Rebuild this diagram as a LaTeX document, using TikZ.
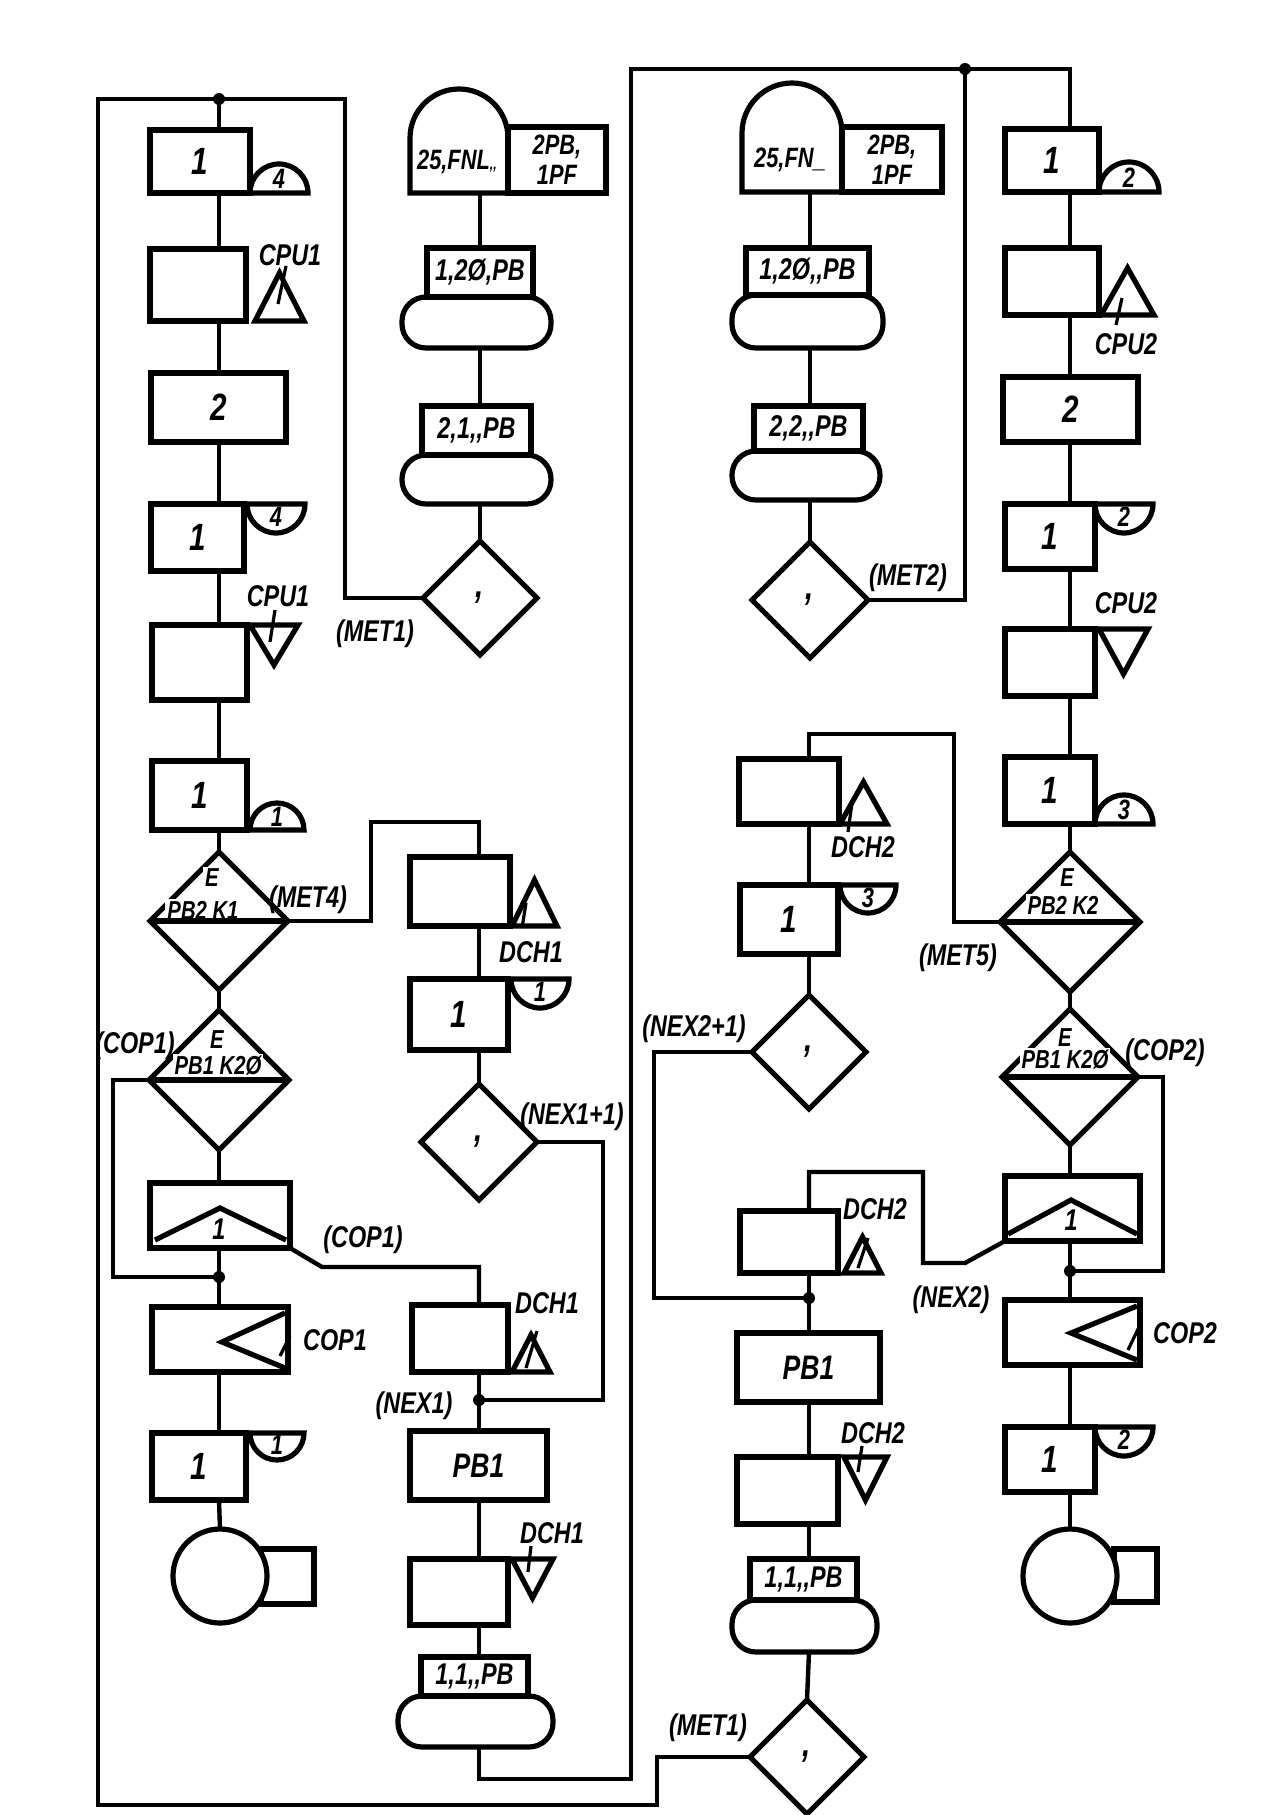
\documentclass[tikz,border=0pt]{standalone}
\usepackage{fontspec}
\newfontfamily\hf{Liberation Sans}[FakeStretch=0.78]
\usetikzlibrary{shapes.geometric}
\tikzset{
 sh/.style={line width=2.6pt},
 cn/.style={line width=2.2pt},
 tk/.style={line width=1.6pt},
 bx/.style={draw, sh, rectangle, inner sep=0pt, outer sep=0pt, fill=white, align=center,
   font=\hf\bfseries\itshape\fontsize{19}{19}\selectfont},
 tb/.style={font=\hf\bfseries\itshape\fontsize{15}{15}\selectfont},
 t2/.style={font=\hf\bfseries\itshape\fontsize{14}{15}\selectfont},
 t3/.style={font=\hf\bfseries\itshape\fontsize{17}{17}\selectfont},
 stad/.style={draw, sh, rectangle, rounded corners=12pt, inner sep=0pt, outer sep=0pt, fill=white},
 dm/.style={diamond, draw, sh, inner sep=0pt, outer sep=0pt, fill=white,
   font=\hf\bfseries\itshape\fontsize{19}{19}\selectfont},
 lb/.style={font=\hf\bfseries\itshape\fontsize{15}{15}\selectfont, inner sep=0.5pt},
 dk/.style={font=\hf\bfseries\itshape\fontsize{14}{14}\selectfont, inner sep=0pt},
 el/.style={font=\hf\bfseries\itshape\fontsize{13}{13}\selectfont, inner sep=1pt, fill=white},
 sm/.style={font=\hf\bfseries\itshape\fontsize{14}{14}\selectfont, inner sep=0pt},
 md/.style={font=\hf\bfseries\itshape\fontsize{15}{15}\selectfont},
}
\newcommand\Bx[7][]{\pgfmathsetmacro\bw{(#5-#3)*0.5}\pgfmathsetmacro\bh{(#6-#4)*0.5}%
 \node[bx,#1,minimum width=\bw pt,minimum height=\bh pt] (#2) at ({(#3+#5)/2},{(#4+#6)/2}) {#7};}
\newcommand\St[5]{\pgfmathsetmacro\bw{(#4-#2)*0.5}\pgfmathsetmacro\bh{(#5-#3)*0.5}%
 \node[stad,minimum width=\bw pt,minimum height=\bh pt] (#1) at ({(#2+#4)/2},{(#3+#5)/2}) {};}
\newcommand\Dm[5]{\node[dm,minimum width=#4pt,minimum height=#4pt] (#1) at (#2,#3) {#5};}
\newcommand\SemiUp[5]{\draw[sh,fill=white] (#2,#3) arc[start angle=180,end angle=0,radius=#4*0.5pt] -- cycle;
 \node[sm] (#1) at ({#2+#4},{#3-#4*0.48}) {#5};}
\newcommand\SemiDn[5]{\draw[sh,fill=white] (#2,#3) arc[start angle=180,end angle=360,radius=#4*0.5pt] -- cycle;
 \node[sm] (#1) at ({#2+#4},{#3+#4*0.45}) {#5};}
\newcommand\Tri[5]{\draw[sh,fill=white] (#2,#4) -- (#3,#4) -- ({(#2+#3)/2},#5) -- cycle;
 \coordinate (#1) at ({(#2+#3)/2},#5);}
\begin{document}
\begin{tikzpicture}[x=0.5pt,y=-0.5pt]
\useasboundingbox (0,0) rectangle (1271,1815);
\fill[white] (0,0) rectangle (1271,1815);
% spines and junctions
\coordinate (sA) at (219,0);
\coordinate (sB) at (480,0);
\coordinate (sC) at (479,0);
\coordinate (sD) at (810,0);
\coordinate (sE) at (809,0);
\coordinate (sR) at (1070,0);
\coordinate (jA) at (219,99);
\coordinate (jA2) at (219,1277);
\coordinate (jC) at (479,1400);
\coordinate (jT) at (965,69);
\coordinate (jE) at (809,1298);
\coordinate (jR) at (1070,1271);

% ---------- column A ----------
\Bx{A1}{150}{130}{250}{193}{1}
\SemiUp{A1s}{250}{193}{29}{4}
\Bx{A2}{150}{249}{246}{321}{}
\Tri{A2t}{255}{304}{321}{273}
\node[lb] (A2l) at (290,255) {CPU1};
\Bx{A3}{151}{373}{286}{442}{2}
\Bx{A4}{151}{504}{244}{571}{1}
\SemiDn{A4s}{247}{504}{29}{4}
\Bx{A5}{152}{625}{247}{700}{}
\Tri{A5t}{250}{298}{625}{665}
\node[lb] (A5l) at (278,596) {CPU1};
\Bx{A6}{152}{761}{247}{830}{1}
\SemiUp{A6s}{250}{830}{27}{1}
\Dm{A7}{219}{921}{69}{}
\node[el] (A7e) at (212,878) {E};
\node[el] (A7p) at (203,910) {PB2 K1};
\node[lb] (A7l) at (308,900) {(MET4)};
\Dm{A8}{219}{1080}{70}{}
\node[el] (A8e) at (217,1040) {E};
\node[el] (A8p) at (218,1066) {PB1 K2Ø};
\node[lb] (A8l) at (135,1046) {(COP1)};
\Bx{A9}{150}{1183}{290}{1248}{}
\node[lb] (A9l) at (363,1240) {(COP1)};
\Bx{A10}{152}{1307}{288}{1372}{}
\node[lb] (A10l) at (335,1340) {COP1};
\Bx{A11}{152}{1433}{246}{1500}{1}
\SemiDn{A11s}{250}{1433}{27}{1}
\draw[sh] (261,1549) rectangle (314,1604);
\node[draw,sh,circle,fill=white,minimum size=47pt,inner sep=0pt,outer sep=0pt] (A12) at (220,1576) {};

% ---------- column B ----------
\draw[sh,fill=white] (410,193) -- (410,138) arc[start angle=180,end angle=0,radius=24.5pt] -- (508,193) -- cycle;
\node[dk] (B1t) at (457,162) {25,FNL{\fontsize{8}{8}\selectfont,,}};
\Bx[t2]{B1r}{508}{127}{606}{193}{2PB,\\1PF}
\coordinate (B1b) at (480,193);
\St{B2s}{402}{297}{551}{348}
\Bx[tb]{B2}{427}{248}{533}{297}{1,2Ø,PB}
\St{B3s}{402}{455}{551}{504}
\Bx[tb]{B3}{422}{406}{531}{455}{2,1,,PB}
\Dm{B4}{480}{598}{57}{,}
\node[lb] (B4l) at (375,634) {(MET1)};

% ---------- column C ----------
\Bx{C1}{410}{857}{510}{926}{}
\Tri{C1t}{512}{557}{926}{880}
\node[lb] (C1l) at (531,952) {DCH1};
\Bx{C2}{410}{979}{508}{1050}{1}
\SemiDn{C2s}{511}{979}{29}{1}
\Dm{C3}{479}{1142}{58}{,}
\node[lb] (C3l) at (572,1117) {(NEX1+1)};
\Bx{C4}{412}{1305}{508}{1372}{}
\Tri{C4t}{512}{550}{1372}{1335}
\node[lb] (C4l) at (547,1303) {DCH1};
\node[lb] (C4n) at (414,1406) {(NEX1)};
\Bx[t3]{C5}{410}{1431}{547}{1500}{PB1}
\Bx{C6}{410}{1559}{508}{1625}{}
\Tri{C6t}{512}{553}{1559}{1598}
\node[lb] (C6l) at (552,1533) {DCH1};
\St{C7s}{398}{1696}{553}{1747}
\Bx[tb]{C7}{421}{1657}{528}{1696}{1,1,,PB}

% ---------- column D ----------
\draw[sh,fill=white] (742,192) -- (742,133) arc[start angle=180,end angle=0,radius=25pt] -- (842,192) -- cycle;
\node[dk] (D1t) at (790,160) {25,FN\_};
\Bx[t2]{D1r}{842}{127}{942}{192}{2PB,\\1PF}
\coordinate (D1b) at (810,192);
\St{D2s}{732}{295}{883}{348}
\Bx[tb]{D2}{746}{248}{869}{295}{1,2Ø,,PB}
\St{D3s}{732}{451}{880}{500}
\Bx[tb]{D3}{754}{406}{863}{451}{2,2,,PB}
\Dm{D4}{810}{600}{58}{,}
\node[lb] (D4l) at (908,578) {(MET2)};

% ---------- column E ----------
\Bx{E1}{739}{759}{839}{824}{}
\Tri{E1t}{840}{887}{824}{782}
\node[lb] (E1l) at (863,847) {DCH2};
\Bx{E2}{740}{885}{838}{954}{1}
\SemiDn{E2s}{840}{885}{28}{3}
\Dm{E3}{809}{1052}{57}{,}
\node[lb] (E3l) at (694,1029) {(NEX2+1)};
\Bx{E4}{740}{1211}{838}{1273}{}
\Tri{E4t}{844}{881}{1273}{1237}
\node[lb] (E4l) at (875,1209) {DCH2};
\Bx[t3]{E5}{737}{1333}{880}{1402}{PB1}
\Bx{E6}{737}{1457}{838}{1524}{}
\Tri{E6t}{844}{887}{1457}{1500}
\node[lb] (E6l) at (873,1433) {DCH2};
\St{E7s}{732}{1600}{877}{1652}
\Bx[tb]{E7}{750}{1559}{857}{1600}{1,1,,PB}
\Dm{E8}{807}{1757}{57}{,}
\node[lb] (E8l) at (708,1728) {(MET1)};

% ---------- column R ----------
\Bx{R1}{1005}{129}{1099}{192}{1}
\SemiUp{R1s}{1099}{192}{30}{2}
\Bx{R2}{1005}{248}{1099}{315}{}
\Tri{R2t}{1101}{1154}{315}{268}
\node[lb] (R2l) at (1126,344) {CPU2};
\Bx{R3}{1003}{377}{1138}{442}{2}
\Bx{R4}{1005}{504}{1095}{569}{1}
\SemiDn{R4s}{1095}{504}{29}{2}
\Bx{R5}{1005}{629}{1095}{696}{}
\Tri{R5t}{1099}{1148}{629}{674}
\node[lb] (R5l) at (1126,603) {CPU2};
\Bx{R6}{1005}{757}{1095}{824}{1}
\SemiUp{R6s}{1095}{824}{29}{3}
\Dm{R7}{1070}{922}{70}{}
\node[el] (R7e) at (1067,878) {E};
\node[el] (R7p) at (1063,905) {PB2 K2};
\node[lb] (R7l) at (958,958) {(MET5)};
\Dm{R8}{1070}{1077}{68}{}
\node[el] (R8e) at (1065,1038) {E};
\node[el] (R8p) at (1065,1060) {PB1 K2Ø};
\node[lb] (R8l) at (1165,1053) {(COP2)};
\Bx{R9}{1005}{1176}{1140}{1241}{}
\node[lb] (R9l) at (951,1300) {(NEX2)};
\Bx{R10}{1005}{1300}{1140}{1365}{}
\node[lb] (R10l) at (1185,1333) {COP2};
\Bx{R11}{1005}{1427}{1095}{1492}{1}
\SemiDn{R11s}{1095}{1427}{29}{2}
\draw[sh] (1114,1549) rectangle (1157,1602);
\node[draw,sh,circle,fill=white,minimum size=47pt,inner sep=0pt,outer sep=0pt] (R12) at (1070,1576) {};

% ---------- inner marks ----------
\draw[sh] (155,1240) -- (220,1208) -- (286,1240);
\node[md] (A9n) at (219,1229) {1};
\draw[sh] (1008,1234) -- (1071,1200) -- (1137,1234);
\node[md] (R9n) at (1071,1220) {1};
\draw[sh] (285,1313) -- (222,1342) -- (285,1368);
\draw[sh] (1137,1306) -- (1071,1333) -- (1137,1360);
\draw[tk] (286,266) -- (278,304);
\draw[tk] (275,610) -- (270,642);
\draw[tk] (526,903) -- (522,928);
\draw[tk] (537,1331) -- (526,1368);
\draw[tk] (531,1546) -- (528,1572);
\draw[tk] (852,803) -- (848,832);
\draw[tk] (868,1238) -- (858,1268);
\draw[tk] (862,1446) -- (858,1472);
\draw[tk] (1122,298) -- (1116,325);
\draw[tk] (290,1336) -- (280,1356);
\draw[tk] (1140,1325) -- (1128,1350);
\draw[sh] (A7.west) -- (A7.east);
\draw[sh] (A8.west) -- (A8.east);
\draw[sh] (R7.west) -- (R7.east);
\draw[sh] (R8.west) -- (R8.east);

% ---------- connectors ----------
% column A
\draw[cn] (jA) -- (A1.north -| sA);
\draw[cn] (A1.south -| sA) -- (A2.north -| sA);
\draw[cn] (A2.south -| sA) -- (A3.north -| sA);
\draw[cn] (A3.south -| sA) -- (A4.north -| sA);
\draw[cn] (A4.south -| sA) -- (A5.north -| sA);
\draw[cn] (A5.south -| sA) -- (A6.north -| sA);
\draw[cn] (A6.south -| sA) -- (A7.north);
\draw[cn] (A7.south) -- (A8.north);
\draw[cn] (A8.south) -- (A9.north -| sA);
\draw[cn] (A9.south -| sA) -- (jA2) -- (A10.north -| sA);
\draw[cn] (A10.south -| sA) -- (A11.north -| sA);
\draw[cn] (A11.south -| sA) -- (A12.north);
% outer frame
\draw[cn] (B4.west) -- (345,598) -- (345,99) -- (jA) -- (98,99) -- (98,1805) -- (657,1805) -- (657,1757) -- (E8.west);
\draw[cn] (A7.east) -- (371,921) -- (371,822) -- (479,822) -- (C1.north -| sC);
\draw[cn] (A8.west) -- (113,1080) -- (113,1277) -- (jA2);
\draw[cn] (A9.south east) -- (322,1267) -- (479,1267) -- (C4.north -| sC);
% column B
\draw[cn] (B1b) -- (B2.north -| sB);
\draw[cn] (B2s.south -| sB) -- (B3.north -| sB);
\draw[cn] (B3s.south -| sB) -- (B4.north);
% column C
\draw[cn] (C1.south -| sC) -- (C2.north -| sC);
\draw[cn] (C2.south -| sC) -- (C3.north);
\draw[cn] (C3.east) -- (603,1142) -- (603,1400) -- (jC);
\draw[cn] (C4.south -| sC) -- (jC) -- (C5.north -| sC);
\draw[cn] (C5.south -| sC) -- (C6.north -| sC);
\draw[cn] (C6.south -| sC) -- (C7.north -| sC);
\draw[cn] (C7s.south -| sC) -- (479,1779) -- (631,1779) -- (631,69) -- (jT) -- (1070,69) -- (R1.north -| sR);
% column D
\draw[cn] (D1b) -- (D2.north -| sD);
\draw[cn] (D2s.south -| sD) -- (D3.north -| sD);
\draw[cn] (D3s.south -| sD) -- (D4.north);
\draw[cn] (D4.east) -- (965,600) -- (jT);
% column E
\draw[cn] (R7.west) -- (954,922) -- (954,734) -- (809,734) -- (E1.north -| sE);
\draw[cn] (E1.south -| sE) -- (E2.north -| sE);
\draw[cn] (E2.south -| sE) -- (E3.north);
\draw[cn] (E3.west) -- (654,1052) -- (654,1298) -- (jE);
\draw[cn] (R9.south west) -- (965,1263) -- (923,1263) -- (923,1172) -- (809,1172) -- (E4.north -| sE);
\draw[cn] (E4.south -| sE) -- (jE) -- (E5.north -| sE);
\draw[cn] (E5.south -| sE) -- (E6.north -| sE);
\draw[cn] (E6.south -| sE) -- (E7.north -| sE);
\draw[cn] (E7s.south -| sE) -- (E8.north);
% column R
\draw[cn] (R1.south -| sR) -- (R2.north -| sR);
\draw[cn] (R2.south -| sR) -- (R3.north -| sR);
\draw[cn] (R3.south -| sR) -- (R4.north -| sR);
\draw[cn] (R4.south -| sR) -- (R5.north -| sR);
\draw[cn] (R5.south -| sR) -- (R6.north -| sR);
\draw[cn] (R6.south -| sR) -- (R7.north);
\draw[cn] (R7.south) -- (R8.north);
\draw[cn] (R8.south) -- (R9.north -| sR);
\draw[cn] (R9.south -| sR) -- (jR) -- (R10.north -| sR);
\draw[cn] (R8.east) -- (1163,1077) -- (1163,1271) -- (jR);
\draw[cn] (R10.south -| sR) -- (R11.north -| sR);
\draw[cn] (R11.south -| sR) -- (R12.north);
% junction dots
\foreach \j in {jA,jA2,jC,jT,jE,jR} \fill (\j) circle (3pt);
\end{tikzpicture}
\end{document}
